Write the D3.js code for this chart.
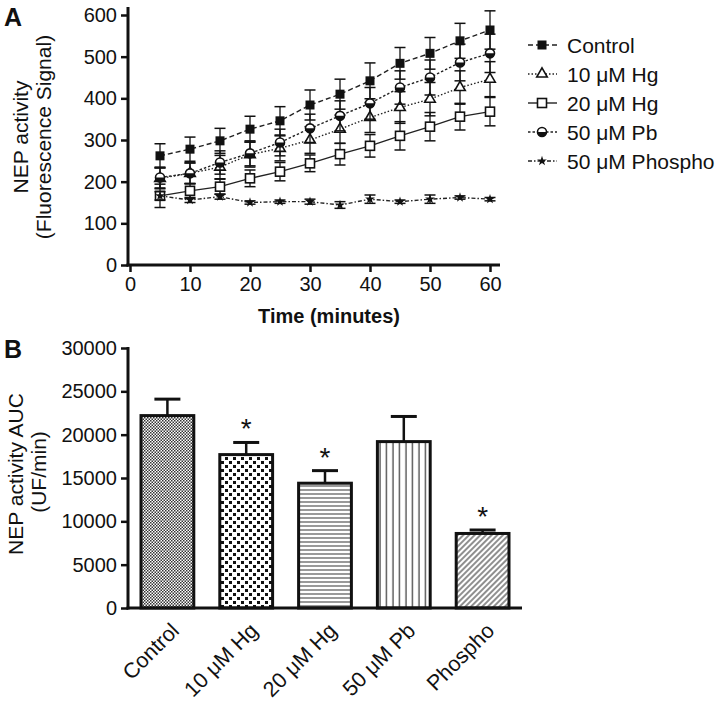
<!DOCTYPE html>
<html><head><meta charset="utf-8">
<script src="https://cdn.jsdelivr.net/npm/d3@7/dist/d3.min.js"></script>
<style>body{margin:0;background:#fff;} text{font-family:"Liberation Sans",Arial,sans-serif;fill:#111;}</style>
</head><body>
<svg id="c" width="720" height="703"></svg>
<script>
// ---- Panel A data ----
const times = [5,10,15,20,25,30,35,40,45,50,55,60];
const seriesNames = ["Control","10 μM Hg","20 μM Hg","50 μM Pb","50 μM Phospho"];
const controlVals = [262,278,298,326,346,384,410,442,484,508,538,564];
const controlErr  = [29,29,30,31,34,36,36,43,38,38,42,46];
const hg10Vals = [208,220,235,265,280,300,326,354,378,398,426,446];
const hg10Err  = [25,25,28,30,30,32,34,36,38,40,40,42];
const hg20Vals = [166,178,188,208,224,244,266,286,310,332,356,368];
const hg20Err  = [28,18,18,20,22,20,26,27,34,34,32,34];
const pbVals = [210,220,246,268,294,328,358,388,426,450,486,508];
const pbErr  = [25,25,28,30,32,34,36,38,40,42,44,46];
const phosVals = [166,156,164,150,152,152,144,158,152,158,162,158];
const phosErr  = [10,6,6,4,4,6,8,10,4,10,4,4];
const xTicksA = [0,10,20,30,40,50,60];
const yTicksA = [0,100,200,300,400,500,600];

// ---- Panel B data ----
const categories = ["Control","10 μM Hg","20 μM Hg","50 μM Pb","Phospho"];
const aucVals = [22200,17700,14400,19200,8600];
const aucErr  = [1900,1400,1450,2900,400];
const aucSig  = [false,true,true,false,true];
const yTicksB = [0,5000,10000,15000,20000,25000,30000];

const svg = d3.select("#c");
const ink = "#111";

// patterns
const defs = svg.append("defs");
let p = defs.append("pattern").attr("id","pCtrl").attr("patternUnits","userSpaceOnUse").attr("width",3).attr("height",3);
p.append("rect").attr("width",3).attr("height",3).attr("fill","#fff");
p.append("rect").attr("x",0).attr("y",0).attr("width",1.5).attr("height",1.5).attr("fill","#333");
p.append("rect").attr("x",1.5).attr("y",1.5).attr("width",1.5).attr("height",1.5).attr("fill","#333");
p = defs.append("pattern").attr("id","pDots").attr("patternUnits","userSpaceOnUse").attr("width",8).attr("height",8);
p.append("rect").attr("width",8).attr("height",8).attr("fill","#fff");
p.append("rect").attr("x",1).attr("y",1).attr("width",3).attr("height",3).attr("fill","#111");
p.append("rect").attr("x",5).attr("y",5).attr("width",3).attr("height",3).attr("fill","#111");
p = defs.append("pattern").attr("id","pHor").attr("patternUnits","userSpaceOnUse").attr("width",4).attr("height",4);
p.append("rect").attr("width",4).attr("height",4).attr("fill","#fff");
p.append("line").attr("x1",0).attr("x2",4).attr("y1",2).attr("y2",2).attr("stroke","#555").attr("stroke-width",1.2);
p = defs.append("pattern").attr("id","pVer").attr("patternUnits","userSpaceOnUse").attr("width",6.5).attr("height",6);
p.append("rect").attr("width",6.5).attr("height",6).attr("fill","#fff");
p.append("line").attr("y1",0).attr("y2",6).attr("x1",3).attr("x2",3).attr("stroke","#444").attr("stroke-width",1.3);
p = defs.append("pattern").attr("id","pDiag").attr("patternUnits","userSpaceOnUse").attr("width",4).attr("height",4).attr("patternTransform","rotate(45)");
p.append("rect").attr("width",4).attr("height",4).attr("fill","#fff");
p.append("line").attr("y1",0).attr("y2",4).attr("x1",2).attr("x2",2).attr("stroke","#333").attr("stroke-width",1.1);
const barFills = ["url(#pCtrl)","url(#pDots)","url(#pHor)","url(#pVer)","url(#pDiag)"];

// ---------- Panel A ----------
const xA = d3.scaleLinear().domain([0,60]).range([130,490]);
const yA = d3.scaleLinear().domain([0,600]).range([265,15]);
const gA = svg.append("g");

gA.append("text").attr("x",4).attr("y",26).attr("font-size",25).attr("font-weight","bold").text("A");

const axYA = gA.append("g").attr("transform","translate(128,0)")
  .call(d3.axisLeft(yA).tickValues(yTicksA).tickSize(7).tickPadding(4).tickSizeOuter(0));
const axXA = gA.append("g").attr("transform","translate(0,265)")
  .call(d3.axisBottom(xA).tickValues(xTicksA).tickSize(7).tickPadding(5).tickSizeOuter(0));
[axYA,axXA].forEach(a=>{
  a.selectAll("path").remove();
  a.selectAll("line").attr("stroke",ink).attr("stroke-width",2.5);
  a.selectAll("text").attr("font-size",20).attr("fill",ink);
});
gA.append("line").attr("x1",128).attr("x2",128).attr("y1",7).attr("y2",266.5).attr("stroke",ink).attr("stroke-width",3);
gA.append("line").attr("x1",126.5).attr("x2",500).attr("y1",265).attr("y2",265).attr("stroke",ink).attr("stroke-width",3);

gA.append("text").attr("transform","translate(28,137) rotate(-90)").attr("text-anchor","middle").attr("font-size",21).text("NEP activity");
gA.append("text").attr("transform","translate(51,137) rotate(-90)").attr("text-anchor","middle").attr("font-size",21).text("(Fluorescence Signal)");
gA.append("text").attr("x",329).attr("y",323).attr("text-anchor","middle").attr("font-size",20).attr("font-weight","bold").text("Time (minutes)");

const series = [
  {name:seriesNames[0], v:controlVals, e:controlErr, dash:"5,3", marker:"sqFill"},
  {name:seriesNames[1], v:hg10Vals, e:hg10Err, dash:"1.5,2", marker:"tri"},
  {name:seriesNames[2], v:hg20Vals, e:hg20Err, dash:null, marker:"sqOpen"},
  {name:seriesNames[3], v:pbVals, e:pbErr, dash:"2.5,2", marker:"half"},
  {name:seriesNames[4], v:phosVals, e:phosErr, dash:"4,2,1.5,2", marker:"star"}
];

function drawMarker(g, type, x, y){
  if(type==="sqFill") g.append("rect").attr("x",x-4.5).attr("y",y-4.5).attr("width",9).attr("height",9).attr("fill",ink);
  else if(type==="sqOpen") g.append("rect").attr("x",x-4.5).attr("y",y-4.5).attr("width",9).attr("height",9).attr("fill","#fff").attr("stroke",ink).attr("stroke-width",1.6);
  else if(type==="tri") g.append("path").attr("d",d3.symbol(d3.symbolTriangle,48)()).attr("transform",`translate(${x},${y})`).attr("fill","#fff").attr("stroke",ink).attr("stroke-width",1.6);
  else if(type==="half"){
    g.append("circle").attr("cx",x).attr("cy",y).attr("r",4.5).attr("fill","#fff").attr("stroke",ink).attr("stroke-width",1.6);
    g.append("path").attr("d",`M${x-4.5},${y} A4.5,4.5 0 0 0 ${x+4.5},${y} Z`).attr("fill",ink);
  }
  else if(type==="star") g.append("path").attr("d",d3.symbol(d3.symbolStar,30)()).attr("transform",`translate(${x},${y})`).attr("fill",ink);
}

const line = d3.line().x((d,i)=>xA(times[i])).y(d=>yA(d));
series.forEach(s=>{
  const g = gA.append("g");
  s.v.forEach((v,i)=>{
    const x = xA(times[i]);
    g.append("line").attr("x1",x).attr("x2",x).attr("y1",yA(v+s.e[i])).attr("y2",yA(v-s.e[i])).attr("stroke",ink).attr("stroke-width",1.3);
    [v+s.e[i], v-s.e[i]].forEach(t=>g.append("line").attr("x1",x-5.5).attr("x2",x+5.5).attr("y1",yA(t)).attr("y2",yA(t)).attr("stroke",ink).attr("stroke-width",1.5));
  });
  g.append("path").datum(s.v).attr("d",line).attr("fill","none").attr("stroke","#222").attr("stroke-width",1.4).attr("stroke-dasharray",s.dash);
  s.v.forEach((v,i)=>drawMarker(g,s.marker,xA(times[i]),yA(v)));
});

// legend
series.forEach((s,i)=>{
  const y = 45 + i*29;
  const g = gA.append("g");
  g.append("line").attr("x1",528).attr("x2",557).attr("y1",y).attr("y2",y).attr("stroke","#222").attr("stroke-width",1.4).attr("stroke-dasharray",s.dash);
  drawMarker(g,s.marker,542,y);
  g.append("text").attr("x",567).attr("y",y+7.5).attr("font-size",21).text(s.name);
});

// ---------- Panel B ----------
const xB = d3.scaleBand().domain(categories).range([128,522]).paddingInner(0.33).paddingOuter(0.165);
const yB = d3.scaleLinear().domain([0,30000]).range([608,348]);
const gB = svg.append("g");
gB.append("text").attr("x",4).attr("y",358).attr("font-size",25).attr("font-weight","bold").text("B");

const axYB = gB.append("g").attr("transform","translate(128,0)")
  .call(d3.axisLeft(yB).tickValues(yTicksB).tickFormat(d3.format("d")).tickSize(7).tickPadding(4).tickSizeOuter(0));
axYB.selectAll("path").remove();
axYB.selectAll("line").attr("stroke",ink).attr("stroke-width",2.5);
axYB.selectAll("text").attr("font-size",20).attr("fill",ink);

gB.append("text").attr("transform","translate(23,474) rotate(-90)").attr("text-anchor","middle").attr("font-size",21).text("NEP activity AUC");
gB.append("text").attr("transform","translate(46,472) rotate(-90)").attr("text-anchor","middle").attr("font-size",21).text("(UF/min)");

categories.forEach((c,i)=>{
  const x = xB(c), w = xB.bandwidth(), cx = x + w/2;
  const top = yB(aucVals[i]+aucErr[i]);
  gB.append("line").attr("x1",cx).attr("x2",cx).attr("y1",top).attr("y2",yB(aucVals[i])).attr("stroke",ink).attr("stroke-width",2.5);
  gB.append("line").attr("x1",cx-13).attr("x2",cx+13).attr("y1",top).attr("y2",top).attr("stroke",ink).attr("stroke-width",3);
  gB.append("rect").attr("x",x).attr("y",yB(aucVals[i])).attr("width",w).attr("height",yB(0)-yB(aucVals[i]))
    .attr("fill",barFills[i]).attr("stroke",ink).attr("stroke-width",3);
  if(aucSig[i]) gB.append("text").attr("x",cx).attr("y",top-4).attr("text-anchor","middle").attr("font-size",28).text("*");
});

const axXB = gB.append("g").attr("transform","translate(0,608)")
  .call(d3.axisBottom(xB).tickSize(0).tickSizeOuter(0));
axXB.selectAll("path").remove();
axXB.selectAll("text").attr("font-size",21.5).attr("fill",ink)
  .attr("text-anchor","end").attr("x",0).attr("y",0).attr("dy",0).attr("transform","translate(13,24) rotate(-45)");
gB.append("line").attr("x1",126.5).attr("x2",522).attr("y1",608).attr("y2",608).attr("stroke",ink).attr("stroke-width",3);
gB.append("line").attr("x1",128).attr("x2",128).attr("y1",347).attr("y2",609.5).attr("stroke",ink).attr("stroke-width",3);
</script>
</body></html>
